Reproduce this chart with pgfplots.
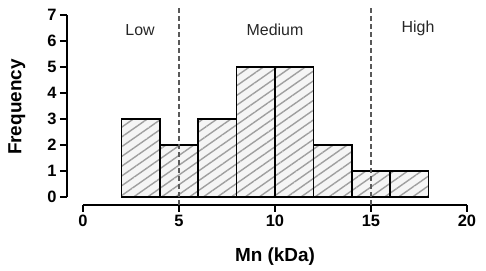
\documentclass[border=0pt]{standalone}
\usepackage{fontspec}
\setmainfont{Liberation Sans}
\usepackage{pgfplots}
\pgfplotsset{compat=1.18}
\usetikzlibrary{patterns.meta}
\begin{document}
\begin{tikzpicture}
\begin{axis}[
  x=19.2bp, y=26bp,
  xmin=0, xmax=20, ymin=0, ymax=7,
  clip=false,
  axis lines=left,
  axis line style={-, line width=2bp, black},
  axis x line shift=8bp,
  axis y line shift=16bp,
  tick align=outside,
  major tick length=7bp,
  tick style={line width=2bp, black},
  xtick={0,5,10,15,20},
  ytick={0,1,...,7},
  /pgf/number format/assume math mode=true,
  tick label style={font=\fontsize{16.5}{16.5}\selectfont\bfseries},
  xlabel={Mn (kDa)},
  ylabel={Frequency},
  label style={font=\fontsize{19}{19}\selectfont\bfseries},
  xlabel style={at={(axis description cs:0.5,-0.325)}, anchor=center},
  ylabel style={at={(axis description cs:-0.172,0.494)}, anchor=center},
]
\path (axis cs:-4.323,7.577) rectangle (axis cs:20.99,-2.846);
\addplot[ybar interval, draw=black, line width=1.6bp, fill=gray!8,
  postaction={pattern={Lines[angle=35, distance=8bp, line width=1.4bp]}, pattern color=gray!75}]
  coordinates {(2,3) (4,2) (6,3) (8,5) (10,5) (12,2) (14,1) (16,1) (18,1)};
\addplot[draw=black!65, line width=1.2bp, dash pattern=on 5bp off 3bp] coordinates {(5,-0.3) (5,7.25)};
\addplot[draw=black!65, line width=1.2bp, dash pattern=on 5bp off 3bp] coordinates {(15,-0.3) (15,7.25)};
\node[font=\fontsize{16}{16}\selectfont, text=black!85] at (axis cs:2.97,6.42) {Low};
\node[font=\fontsize{16}{16}\selectfont, text=black!85] at (axis cs:10.0,6.42) {Medium};
\node[font=\fontsize{16}{16}\selectfont, text=black!85] at (axis cs:17.45,6.5) {High};
\end{axis}
\end{tikzpicture}
\end{document}
